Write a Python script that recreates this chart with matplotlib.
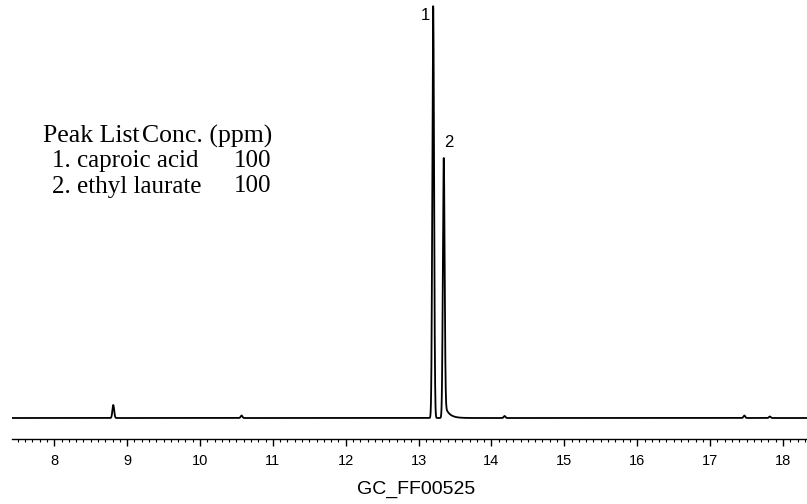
import numpy as np
import matplotlib.pyplot as plt
from matplotlib.ticker import MultipleLocator

# peak table (retention time in min, height, width)
peak_rt = [8.81, 10.57, 13.20, 13.345, 14.18, 17.47, 17.82]
peak_height = [13.0, 2.5, 412.0, 260.0, 2.0, 2.5, 1.5]
peak_sigma = [0.012, 0.012, 0.012, 0.012, 0.012, 0.012, 0.012]
peak_tail = [0.0, 0.0, 0.0, 0.06, 0.0, 0.0, 0.0]
peak_labels = ["1", "2"]
baseline = 21.0

table_head = ("Peak List", "Conc. (ppm)")
table_rows = [("1. caproic acid", "100"), ("2. ethyl laurate", "100")]

t = np.linspace(7.42, 18.33, 6000)
signal = np.full_like(t, baseline)
for rt, h, s, tau in zip(peak_rt, peak_height, peak_sigma, peak_tail):
    g = h * np.exp(-0.5 * ((t - rt) / s) ** 2)
    if tau > 0:
        # exponential tail after the apex
        tail = np.where(t > rt, h * np.exp(-(t - rt) / tau), 0.0)
        tail *= np.where(t > rt, 1 - np.exp(-0.5 * ((t - rt) / s) ** 2), 0.0)
        g = g + 0.06 * tail
    signal += g

fig = plt.figure(figsize=(8.07, 5.04), dpi=100)
ax = fig.add_axes([12 / 807, 65 / 504, 1 - 12 / 807, 1 - 65 / 504])
ax.plot(t, signal, color="black", lw=1.3)
ax.set_xlim(7.42, 18.33)
ax.set_ylim(0, 439)

for sp in ["top", "left", "right"]:
    ax.spines[sp].set_visible(False)
ax.spines["bottom"].set_linewidth(1.0)
ax.set_yticks([])
ax.xaxis.set_major_locator(MultipleLocator(1))
ax.xaxis.set_minor_locator(MultipleLocator(0.1))
ax.tick_params(axis="x", which="major", length=5, width=1, pad=6)
ax.tick_params(axis="x", which="minor", length=2.5, width=0.8)
for lab in ax.get_xticklabels():
    lab.set_family(["Liberation Sans", "DejaVu Sans"])
    lab.set_fontsize(10.5)

# peak numbers
ax.text(peak_rt[2] - 0.04, baseline + peak_height[2] - 2, peak_labels[0], ha="right", va="top",
        fontsize=12, family=["Liberation Sans", "DejaVu Sans"])
ax.text(peak_rt[3] + 0.07, baseline + peak_height[3] + 8, peak_labels[1], ha="center", va="bottom",
        fontsize=12, family=["Liberation Sans", "DejaVu Sans"])

serif = ["Liberation Serif", "DejaVu Serif"]
fig.text(43 / 807, 1 - 136 / 504, table_head[0], ha="left", va="center", fontsize=18.5, family=serif)
fig.text(272 / 807, 1 - 136 / 504, table_head[1], ha="right", va="center", fontsize=18.5, family=serif)
for i, (name, conc) in enumerate(table_rows):
    y = 1 - (161 + 25.5 * i) / 504
    fig.text(52 / 807, y, name, ha="left", va="center", fontsize=18, family=serif)
    fig.text(271 / 807, y, conc, ha="right", va="center", fontsize=18, family=serif)

fig.text(416 / 807, 1 - 489 / 504, "GC_FF00525", ha="center", va="center", fontsize=14,
         family=["Liberation Sans Narrow", "Liberation Sans", "DejaVu Sans"])

fig.savefig("out.png", dpi=100)
